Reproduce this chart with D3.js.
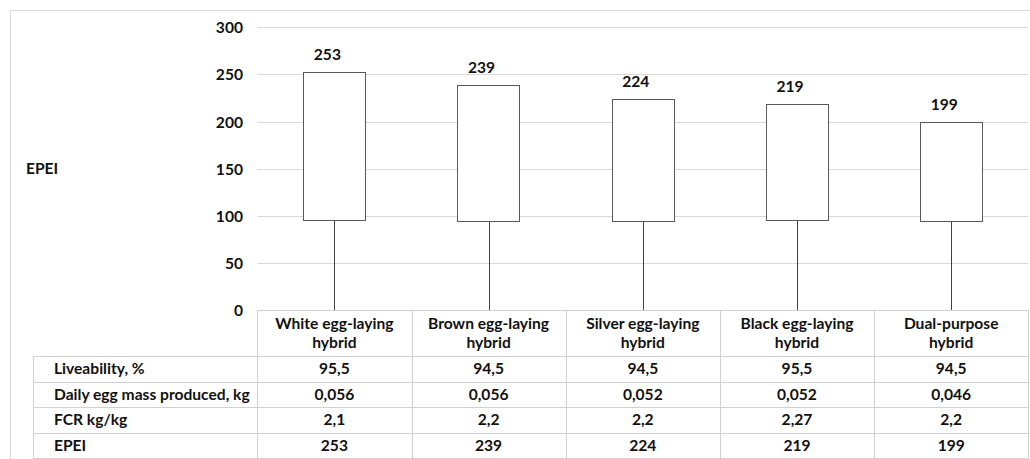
<!DOCTYPE html>
<html><head><meta charset="utf-8">
<script src="https://cdn.jsdelivr.net/npm/d3@7"></script>
<style>
html,body{margin:0;padding:0;background:#fff;}
svg{display:block;}
text{font-family:Lato,"Open Sans",sans-serif;font-weight:700;fill:#111;}
</style></head><body>
<svg id="chart" width="1030" height="459"></svg>
<script>
const categories = ["White egg-laying hybrid","Brown egg-laying hybrid","Silver egg-laying hybrid","Black egg-laying hybrid","Dual-purpose hybrid"];
const liveability = [95.5, 94.5, 94.5, 95.5, 94.5];
const eggMass = [0.056, 0.056, 0.052, 0.052, 0.046];
const fcr = [2.1, 2.2, 2.2, 2.27, 2.2];
const epei = [253, 239, 224, 219, 199];
const rowLabels = ["Liveability, %","Daily egg mass produced, kg","FCR kg/kg","EPEI"];
const rowValues = [
  ["95,5","94,5","94,5","95,5","94,5"],
  ["0,056","0,056","0,052","0,052","0,046"],
  ["2,1","2,2","2,2","2,27","2,2"],
  ["253","239","224","219","199"]
];
const yTicks = [0,50,100,150,200,250,300];
const axisTitle = "EPEI";

const svg = d3.select("#chart");
const fs = 15.6;
const plotL = 257.3, plotR = 1028.3, plotT = 27.3, plotB = 310;
const x = d3.scaleBand().domain(categories).range([plotL, plotR]).padding(0);
const y = d3.scaleLinear().domain([0,300]).range([plotB, plotT]);
const grid = "#d9d9d9";

// outer frame
svg.append("rect").attr("x",10.5).attr("y",10.5).attr("width",1030).attr("height",460)
  .attr("fill","none").attr("stroke",grid);

// gridlines
svg.append("g").selectAll("line").data(yTicks.filter(d=>d>0)).join("line")
  .attr("x1",plotL).attr("x2",plotR)
  .attr("y1",d=>Math.round(y(d))+0.5).attr("y2",d=>Math.round(y(d))+0.5)
  .attr("stroke",grid);

// y axis labels
const yAxis = d3.axisLeft(y).tickValues(yTicks).tickSize(0).tickPadding(0);
const ag = svg.append("g").attr("transform",`translate(243,0)`).call(yAxis);
ag.select(".domain").remove();
ag.selectAll("text").attr("font-size",fs).attr("font-family","Lato").attr("font-weight",700).attr("fill","#111").attr("dy","0.35em");

svg.append("text").attr("x",26).attr("y",168.5).attr("dy","0.35em").attr("font-size",fs).text(axisTitle);

// low lines
const cx = d => x(d) + x.bandwidth()/2;
svg.append("g").selectAll("line").data(categories).join("line")
  .attr("x1",d=>Math.round(cx(d))+0.5).attr("x2",d=>Math.round(cx(d))+0.5)
  .attr("y1",(d,i)=>y(eggMass[i])).attr("y2",(d,i)=>y(liveability[i]))
  .attr("stroke","#404040");

// boxes
const bw = x.bandwidth()*0.405;
svg.append("g").selectAll("rect").data(categories).join("rect")
  .attr("x",d=>Math.round(cx(d)-bw/2)+0.5)
  .attr("width",Math.round(bw))
  .attr("y",(d,i)=>Math.round(y(epei[i]))+0.5)
  .attr("height",(d,i)=>Math.round(y(liveability[i]))-Math.round(y(epei[i])))
  .attr("fill","#fff").attr("stroke","#595959");

// data labels
svg.append("g").selectAll("text").data(categories).join("text")
  .attr("x",d=>cx(d)-7).attr("y",(d,i)=>y(epei[i])-12)
  .attr("text-anchor","middle").attr("font-size",fs).text((d,i)=>epei[i]);

// table
const hdrT = plotB, hdrB = 356, rowH = 25.5, tblL = 33;
const tg = svg.append("g");
const rowTops = rowLabels.map((d,i)=>hdrB + i*rowH);
const tblB = hdrB + rowLabels.length*rowH;
const tcol = "#d0d0d0";
tg.append("line").attr("x1",plotL).attr("x2",plotR).attr("y1",hdrT+0.5).attr("y2",hdrT+0.5).attr("stroke",tcol);
tg.selectAll("line.h").data(rowTops.concat([tblB])).join("line").attr("class","h")
  .attr("x1",tblL).attr("x2",plotR).attr("y1",d=>Math.round(d)+0.5).attr("y2",d=>Math.round(d)+0.5).attr("stroke",tcol);
const colEdges = categories.map(c=>x(c)).concat([plotR]);
tg.selectAll("line.v").data(colEdges).join("line").attr("class","v")
  .attr("x1",d=>Math.round(d)+0.5).attr("x2",d=>Math.round(d)+0.5)
  .attr("y1",hdrT).attr("y2",tblB).attr("stroke",tcol);
tg.append("line").attr("x1",tblL+0.5).attr("x2",tblL+0.5).attr("y1",hdrB).attr("y2",tblB).attr("stroke",tcol);

categories.forEach(c=>{
  const idx = c.lastIndexOf(" ");
  const lines = [c.slice(0,idx), c.slice(idx+1)];
  const t = tg.append("text").attr("text-anchor","middle").attr("font-size",fs);
  lines.forEach((l,k)=>{
    t.append("tspan").attr("x",cx(c)).attr("y",(hdrT+hdrB)/2 + (k-0.5)*19).attr("dy","0.35em").text(l);
  });
});
rowLabels.forEach((r,i)=>{
  const yc = rowTops[i] + rowH/2;
  tg.append("text").attr("x",54).attr("y",yc).attr("dy","0.35em").attr("font-size",fs).text(r);
  categories.forEach((c,j)=>{
    tg.append("text").attr("x",cx(c)).attr("y",yc).attr("dy","0.35em").attr("text-anchor","middle").attr("font-size",fs).text(rowValues[i][j]);
  });
});
</script></body></html>
